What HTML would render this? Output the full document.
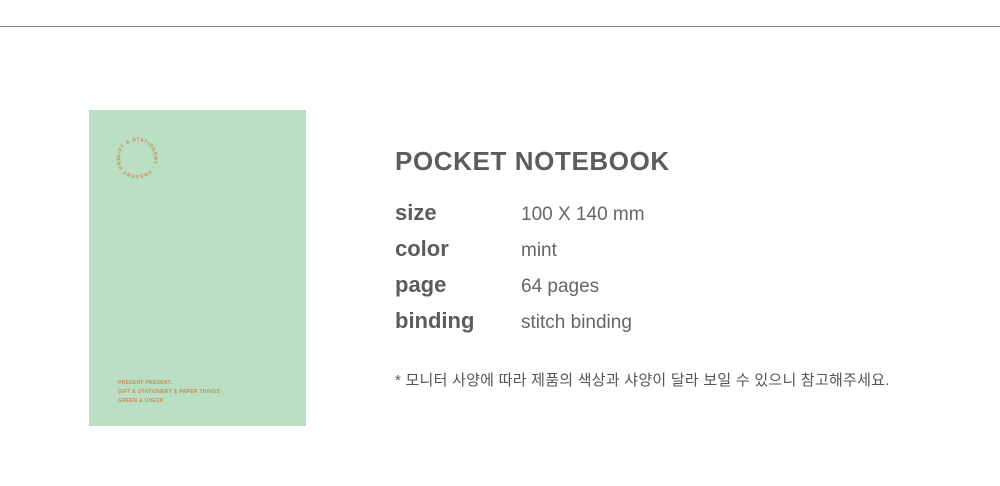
<!DOCTYPE html>
<html><head><meta charset="utf-8"><style>
body{margin:0;width:1000px;height:486px;background:#fff;position:relative;overflow:hidden;font-family:"Liberation Sans","Noto Sans CJK KR",sans-serif;color:#5a5a5a}
.line{position:absolute;left:0;top:26px;width:1000px;height:1px;background:#8a8a8a}
.cover{position:absolute;left:89px;top:110px;width:217px;height:316px;background:#bbdfc2}
.ct{position:absolute;left:29px;font-size:5px;font-weight:bold;color:#c48a5a;letter-spacing:.3px}
.t{position:absolute;left:395px;top:146px;font-size:26px;font-weight:bold;letter-spacing:.6px;color:#5c5c5c}
.r{position:absolute;left:395px;font-size:22px;font-weight:bold;color:#5c5c5c}
.v{position:absolute;left:521px;font-size:19px;color:#666}
.n{position:absolute;left:395px;top:369px;font-size:15px;letter-spacing:.25px;color:#555}
</style></head><body>
<div class="line"></div>
<div class="cover">
<svg width="217" height="120" style="position:absolute;left:0;top:0">
<defs><path id="c" d="M48,48 m-17,0 a17,17 0 1,1 34,0 a17,17 0 1,1 -34,0"/></defs>
<text font-size="5" font-weight="bold" fill="#c48a5a" font-family="Liberation Sans" letter-spacing="0.6"><textPath href="#c">GIFT &amp; STATIONERY · PRESENT PRESENT ·</textPath></text>
</svg>
<div class="ct" style="top:270px">PRESENT PRESENT.</div>
<div class="ct" style="top:279px">GIFT &amp; STATIONERY &amp; PAPER THINGS</div>
<div class="ct" style="top:288px">GREEN &amp; CHECK</div>
</div>
<div class="t">POCKET NOTEBOOK</div>
<div class="r" style="top:200px">size</div><div class="v" style="top:204px">100 X 140 mm</div>
<div class="r" style="top:236px">color</div><div class="v" style="top:240px">mint</div>
<div class="r" style="top:272px">page</div><div class="v" style="top:276px">64 pages</div>
<div class="r" style="top:308px">binding</div><div class="v" style="top:312px">stitch binding</div>
<div class="n">* 모니터 사양에 따라 제품의 색상과 샤양이 달라 보일 수 있으니 참고해주세요.</div>
</body></html>
